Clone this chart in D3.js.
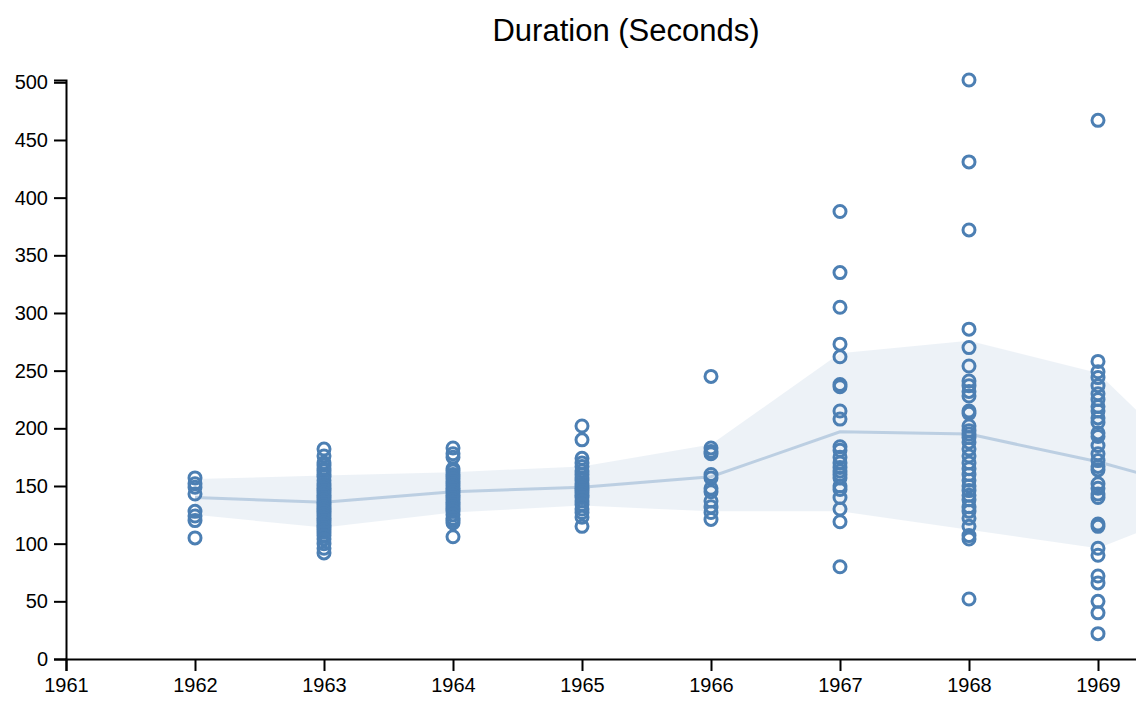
<!DOCTYPE html>
<html>
<head>
<meta charset="utf-8">
<script src="https://cdn.jsdelivr.net/npm/d3@7"></script>
<style>
  html, body { margin: 0; padding: 0; background: #fff; overflow: hidden; }
  svg { display: block; font-family: "Liberation Sans", Arial, Helvetica, sans-serif; }
</style>
</head>
<body>
<svg id="chart" width="1136" height="713"></svg>
<script>
// ---- data ----
const years = [1962, 1963, 1964, 1965, 1966, 1967, 1968, 1969];
const durations1962 = [157, 152, 149, 143, 128, 124, 120, 105];
const durations1963 = [182, 176, 170, 168, 165, 163, 160, 158, 155, 152, 150, 148, 146, 144, 142, 140, 138, 136, 134, 132, 130, 128, 126, 124, 122, 120, 118, 116, 114, 112, 110, 107, 104, 100, 96, 92];
const durations1964 = [183, 178, 175, 165, 163, 160, 158, 156, 154, 152, 150, 148, 146, 144, 142, 140, 138, 136, 134, 132, 130, 128, 125, 122, 120, 118, 106];
const durations1965 = [202, 190, 174, 170, 167, 163, 160, 157, 155, 152, 150, 148, 146, 144, 142, 140, 137, 134, 130, 127, 123, 115];
const durations1966 = [245, 183, 180, 178, 160, 157, 148, 145, 137, 132, 127, 121];
const durations1967 = [388, 335, 305, 273, 262, 238, 236, 215, 208, 184, 181, 175, 170, 166, 163, 160, 157, 150, 147, 140, 130, 119, 80];
const durations1968 = [502, 431, 372, 286, 270, 254, 241, 237, 232, 228, 215, 213, 202, 198, 195, 192, 188, 182, 176, 170, 165, 160, 155, 150, 146, 142, 138, 132, 128, 122, 115, 107, 104, 52];
const durations1969 = [467, 258, 249, 244, 237, 230, 225, 219, 215, 209, 205, 196, 193, 185, 178, 172, 167, 164, 152, 148, 143, 140, 117, 115, 96, 90, 72, 66, 50, 40, 22];
const durationsByYear = [durations1962, durations1963, durations1964, durations1965, durations1966, durations1967, durations1968, durations1969];

// yearly mean and +/- one standard deviation band (1970 continues off the right edge)
const statYears = [1962, 1963, 1964, 1965, 1966, 1967, 1968, 1969, 1970];
const meanValues = [140, 136, 145, 149, 158, 197, 195, 171, 140];
const upperValues = [156, 159, 162, 167, 186, 265, 276, 248, 140];
const lowerValues = [125, 114, 127, 133, 128, 128, 112, 96, 140];

const xTicks = [1961, 1962, 1963, 1964, 1965, 1966, 1967, 1968, 1969];
const yTicks = [0, 50, 100, 150, 200, 250, 300, 350, 400, 450, 500];
const titleText = "Duration (Seconds)";

// ---- drawing ----
const svg = d3.select("#chart");
const color = "#4c7fb3";

const x = d3.scaleLinear().domain([1961, 1970]).range([66, 1227]);
const allValues = durationsByYear.flat();
const y = d3.scaleLinear().domain([0, d3.max(allValues)]).range([659, 80]);

const stats = statYears.map((yr, i) => ({ year: yr, mean: meanValues[i], lo: lowerValues[i], hi: upperValues[i] }));

svg.append("path")
  .datum(stats)
  .attr("fill", color)
  .attr("fill-opacity", 0.1)
  .attr("d", d3.area().x(d => x(d.year)).y0(d => y(d.lo)).y1(d => y(d.hi)));

svg.append("path")
  .datum(stats)
  .attr("fill", "none")
  .attr("stroke", color)
  .attr("stroke-opacity", 0.3)
  .attr("stroke-width", 3)
  .attr("d", d3.line().x(d => x(d.year)).y(d => y(d.mean)));

const points = [];
years.forEach((yr, i) => durationsByYear[i].forEach(v => points.push({ year: yr, value: v })));

svg.append("g")
  .selectAll("circle")
  .data(points)
  .join("circle")
  .attr("cx", d => x(d.year))
  .attr("cy", d => y(d.value))
  .attr("r", 6)
  .attr("fill", "none")
  .attr("stroke", color)
  .attr("stroke-width", 3);

const xAxis = svg.append("g")
  .attr("transform", `translate(0,${y(0)})`)
  .call(d3.axisBottom(x).tickValues(xTicks).tickFormat(d3.format("d")).tickSize(12).tickPadding(7));

const yAxis = svg.append("g")
  .attr("transform", `translate(${x(1961)},0)`)
  .call(d3.axisLeft(y).tickValues(yTicks).tickSize(12).tickPadding(6));

[xAxis, yAxis].forEach(g => {
  g.attr("font-size", 20).attr("font-family", "Liberation Sans, Arial, sans-serif");
  g.selectAll("path, line").attr("stroke", "#000").attr("stroke-width", 2);
  g.selectAll("text").attr("fill", "#000");
});

svg.append("text")
  .attr("x", 626)
  .attr("y", 41)
  .attr("text-anchor", "middle")
  .attr("font-size", 31)
  .attr("fill", "#000")
  .text(titleText);
</script>
</body>
</html>
